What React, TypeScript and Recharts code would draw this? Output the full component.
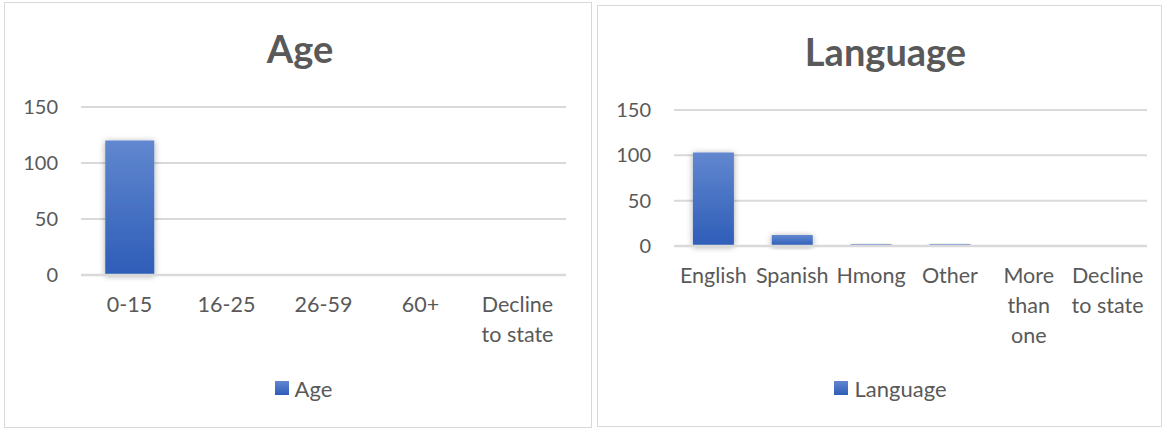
import React from 'react';
import { BarChart, Bar, XAxis, YAxis, CartesianGrid, Legend } from 'recharts';

const ageCategories = ['0-15', '16-25', '26-59', '60+', 'Decline to state'];
const ageValues = [120, 0, 0, 0, 0];
const ageTickLabels = ['0-15', '16-25', '26-59', '60+', 'Decline\nto state'];

const languageCategories = ['English', 'Spanish', 'Hmong', 'Other', 'More than one', 'Decline to state'];
const languageValues = [103, 12, 2, 2, 0, 0];
const languageTickLabels = ['English', 'Spanish', 'Hmong', 'Other', 'More\nthan\none', 'Decline\nto state'];

const yTicks = [0, 50, 100, 150];

const FONT = 'Lato, "Open Sans", sans-serif';
const TEXT = '#595959';
const GRID = '#d9d9d9';

const ageData = ageCategories.map((c, i) => ({ name: c, Age: ageValues[i] }));
const languageData = languageCategories.map((c, i) => ({ name: c, Language: languageValues[i] }));

function makeTick(labels: string[]) {
  return (props: any) => {
    const { x, y, payload } = props;
    const lines = (labels[payload.index] ?? String(payload.value)).split('\n');
    return (
      <text x={x} y={y} textAnchor="middle" fill={TEXT} fontFamily={FONT} fontSize={21.5}>
        {lines.map((l, i) => (
          <tspan key={i} x={x} dy={i === 0 ? 37 : 30}>{l}</tspan>
        ))}
      </text>
    );
  };
}

function LegendContent({ label, gid }: { label: string; gid: string }) {
  return (
    <div style={{ display: 'flex', justifyContent: 'center', alignItems: 'center', height: 40, transform: 'translateX(18px)' }}>
      <svg width={14} height={14} style={{ marginRight: 6 }}>
        <defs>
          <linearGradient id={gid + 'L'} x1="0" y1="0" x2="0" y2="1">
            <stop offset="0%" stopColor="#6187cf" />
            <stop offset="100%" stopColor="#2e5db8" />
          </linearGradient>
        </defs>
        <rect width={14} height={14} fill={`url(#${gid}L)`} />
      </svg>
      <span style={{ fontFamily: FONT, fontSize: 22, color: TEXT }}>{label}</span>
    </div>
  );
}

function Panel(props: {
  left: number; top: number; width: number; height: number; title: string; data: any[]; dataKey: string;
  labels: string[]; margin: any; yWidth: number; xHeight: number; gap: string; gid: string; titleShift: number;
}) {
  const { left, top, width, height, title, data, dataKey, labels, margin, yWidth, xHeight, gap, gid, titleShift } = props;
  return (
    <div style={{ position: 'absolute', left, top, width, height, border: `1px solid ${GRID}`, background: '#fff' }}>
      <div style={{ position: 'absolute', left: titleShift, top: 26, width, textAlign: 'center', fontFamily: FONT, fontWeight: 700, fontSize: 38, lineHeight: '38px', color: TEXT }}>
        {title}
      </div>
      <BarChart width={width} height={height} data={data} margin={margin} barCategoryGap={gap}>
        <defs>
          <linearGradient id={gid} x1="0" y1="0" x2="0" y2="1">
            <stop offset="0%" stopColor="#6187cf" />
            <stop offset="100%" stopColor="#2e5db8" />
          </linearGradient>
          <filter id={gid + 'S'} x="-30%" y="-30%" width="160%" height="160%">
            <feDropShadow dx="0" dy="1" stdDeviation="3" floodColor="#000" floodOpacity="0.35" />
          </filter>
        </defs>
        <CartesianGrid horizontal vertical={false} stroke={GRID} strokeWidth={2} />
        <XAxis dataKey="name" height={xHeight} tickLine={false} tickSize={0} tickMargin={0}
          axisLine={{ stroke: GRID, strokeWidth: 2.5 }} interval={0} tick={makeTick(labels)} />
        <YAxis width={yWidth} domain={[0, 150]} ticks={yTicks} axisLine={false} tickLine={false} tickSize={0}
          tickMargin={23} tick={{ fill: TEXT, fontFamily: FONT, fontSize: 20 }} />
        <Legend verticalAlign="bottom" height={40} content={() => <LegendContent label={dataKey} gid={gid} />} />
        <Bar dataKey={dataKey} fill={`url(#${gid})`} filter={`url(#${gid}S)`} isAnimationActive={false} />
      </BarChart>
    </div>
  );
}

export default function App() {
  return (
    <div style={{ position: 'absolute', left: 0, top: 0, width: 1167, height: 428, background: '#fff', overflow: 'hidden' }}>
      <Panel left={4} top={2} width={586} height={424} title="Age" data={ageData} dataKey="Age" labels={ageTickLabels}
        margin={{ top: 104, right: 25, bottom: 19, left: 0 }} yWidth={76} xHeight={93} gap="25%" gid="gAge" titleShift={2} />
      <Panel left={597} top={5} width={563} height={420} title="Language" data={languageData} dataKey="Language" labels={languageTickLabels}
        margin={{ top: 104, right: 14, bottom: 18, left: 0 }} yWidth={76} xHeight={122} gap="24%" gid="gLang" titleShift={6} />
    </div>
  );
}
